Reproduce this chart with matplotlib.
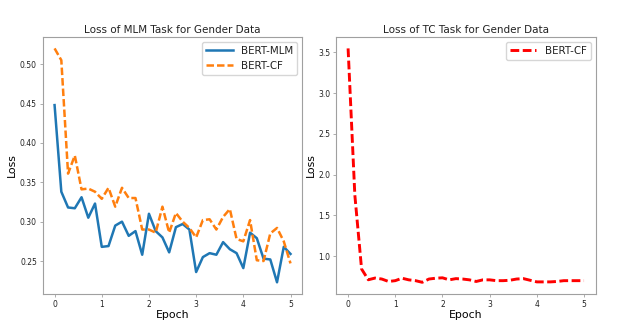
import numpy as np
import matplotlib
matplotlib.use("Agg")
import matplotlib.pyplot as plt

# Training epochs (36 logged steps over 5 epochs)
epochs = np.linspace(0, 5, 36)

# MLM task loss
mlm_bert_mlm = [0.448, 0.338, 0.318, 0.317, 0.331, 0.305, 0.323, 0.268, 0.269, 0.295,
                0.300, 0.282, 0.288, 0.258, 0.310, 0.288, 0.280, 0.261, 0.293, 0.297,
                0.290, 0.236, 0.255, 0.260, 0.258, 0.274, 0.265, 0.260, 0.241, 0.286,
                0.279, 0.253, 0.252, 0.223, 0.268, 0.259]
mlm_bert_cf = [0.520, 0.505, 0.361, 0.384, 0.341, 0.342, 0.338, 0.329, 0.343, 0.319,
               0.343, 0.330, 0.330, 0.290, 0.290, 0.286, 0.319, 0.286, 0.311, 0.300,
               0.292, 0.280, 0.302, 0.303, 0.290, 0.306, 0.316, 0.278, 0.275, 0.302,
               0.251, 0.250, 0.285, 0.292, 0.275, 0.247]

# TC task loss
tc_bert_cf = [3.55, 1.75, 0.843, 0.711, 0.732, 0.720, 0.690, 0.700, 0.730, 0.710,
              0.700, 0.680, 0.720, 0.730, 0.735, 0.710, 0.725, 0.720, 0.710, 0.690,
              0.710, 0.710, 0.700, 0.700, 0.705, 0.720, 0.725, 0.705, 0.685, 0.685,
              0.685, 0.690, 0.700, 0.700, 0.700, 0.700]

spine_col = "#a0a0a0"
text_col = "#222222"
plt.rcParams.update({
    "font.family": "DejaVu Sans",
    "axes.edgecolor": spine_col,
    "axes.linewidth": 0.8,
    "xtick.color": spine_col,
    "ytick.color": spine_col,
    "xtick.labelcolor": text_col,
    "ytick.labelcolor": text_col,
    "xtick.labelsize": 5.5,
    "ytick.labelsize": 5.5,
    "xtick.major.size": 2.2,
    "ytick.major.size": 2.2,
    "xtick.major.width": 0.6,
    "ytick.major.width": 0.6,
    "xtick.major.pad": 2.0,
    "ytick.major.pad": 2.0,
})

fig, (ax1, ax2) = plt.subplots(1, 2, figsize=(6.2, 3.22), dpi=100)
fig.subplots_adjust(left=0.069, right=0.961, bottom=0.087, top=0.886, wspace=0.131)

lw = 1.8
ax1.plot(epochs, mlm_bert_mlm, color="#1f77b4", lw=lw, label="BERT-MLM")
ax1.plot(epochs, mlm_bert_cf, color="#ff7f0e", lw=lw, ls=(0, (3.0, 1.2)), label="BERT-CF")
ax1.set_title("Loss of MLM Task for Gender Data", fontsize=7.5, color=text_col, pad=3)
ax1.set_xlabel("Epoch", fontsize=7.8, color="black", labelpad=1)
ax1.set_ylabel("Loss", fontsize=7.8, color="black", labelpad=2)
ax1.set_yticks([0.25, 0.30, 0.35, 0.40, 0.45, 0.50])
ax1.set_xticks([0, 1, 2, 3, 4, 5])
leg1 = ax1.legend(loc="upper right", fontsize=7.4, handlelength=2.6, borderpad=0.4,
                  labelspacing=0.45, handletextpad=0.8)
for t in leg1.get_texts():
    t.set_color(text_col)

ax2.plot(epochs, tc_bert_cf, color="red", lw=2.1, ls=(0, (3.0, 1.2)), label="BERT-CF")
ax2.set_title("Loss of TC Task for Gender Data", fontsize=7.5, color=text_col, pad=3)
ax2.set_xlabel("Epoch", fontsize=7.8, color="black", labelpad=1)
ax2.set_ylabel("Loss", fontsize=7.8, color="black", labelpad=2)
ax2.set_yticks([1.0, 1.5, 2.0, 2.5, 3.0, 3.5])
ax2.set_xticks([0, 1, 2, 3, 4, 5])
leg2 = ax2.legend(loc="upper right", fontsize=7.4, handlelength=2.6, borderpad=0.4,
                  handletextpad=0.8)
for t in leg2.get_texts():
    t.set_color(text_col)

fig.savefig("out.png", dpi=100)
